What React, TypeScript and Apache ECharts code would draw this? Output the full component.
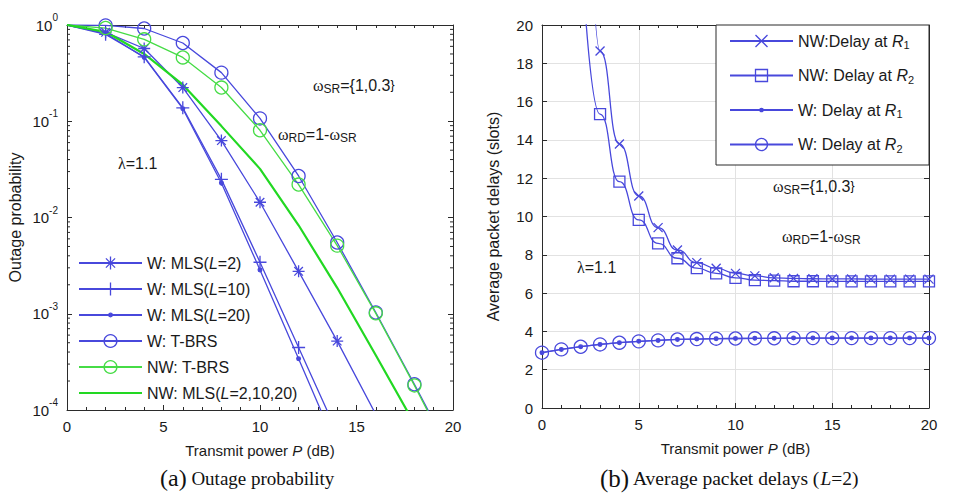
import React, { useEffect, useRef } from 'react';
import * as echarts from 'echarts';

// ---------- (a) outage probability, markers every 2 dB ----------
const powerOutage = [0, 2, 4, 6, 8, 10, 12, 14, 16, 18, 20];
const wMlsL2 = [1, 0.84, 0.57, 0.224, 0.063, 0.0144, 0.00276, 0.00052, 0.00009];
const wMlsL10 = [1, 0.8, 0.467, 0.138, 0.0249, 0.00343, 0.000446, 0.000058];
const wMlsL20 = [1, 0.82, 0.46, 0.135, 0.0228, 0.00285, 0.00034, 0.00004];
const wTbrs = [1, 0.99, 0.92, 0.65, 0.32, 0.107, 0.027, 0.0055, 0.00103, 0.000185, 0.000032];
const nwTbrs = [1, 0.93, 0.71, 0.46, 0.224, 0.0806, 0.022, 0.0051, 0.00101, 0.00018, 0.00003];
const nwMls = [1, 0.85, 0.5, 0.24, 0.089, 0.032, 0.0083, 0.00186, 0.00037, 0.000072];

// ---------- (b) average packet delays, markers every 1 dB ----------
const powerDelay = [0, 1, 2, 3, 4, 5, 6, 7, 8, 9, 10, 11, 12, 13, 14, 15, 16, 17, 18, 19, 20];
const nwDelayR1 = [null, null, 45, 18.64, 13.79, 11.07, 9.42, 8.25, 7.59, 7.3, 7.03, 6.9, 6.8, 6.77, 6.75, 6.74, 6.74, 6.73, 6.73, 6.73, 6.73];
const nwDelayR2 = [null, null, 24.5, 15.35, 11.82, 9.82, 8.6, 7.82, 7.3, 7.03, 6.8, 6.68, 6.65, 6.62, 6.62, 6.61, 6.61, 6.61, 6.61, 6.61, 6.61];
const wDelayR1 = [2.89, 3.06, 3.2, 3.32, 3.41, 3.48, 3.53, 3.58, 3.6, 3.62, 3.63, 3.64, 3.64, 3.65, 3.65, 3.65, 3.65, 3.65, 3.65, 3.65, 3.65];
const wDelayR2 = [2.89, 3.06, 3.2, 3.32, 3.41, 3.48, 3.53, 3.58, 3.6, 3.62, 3.63, 3.64, 3.64, 3.65, 3.65, 3.65, 3.65, 3.65, 3.65, 3.65, 3.65];

// tick labels
const outageDecades = [1e-4, 1e-3, 1e-2, 1e-1, 1];
const logMinorSteps = [2, 3, 4, 5, 6, 7, 8, 9];

const SANS = 'Liberation Sans, Arial, Helvetica, sans-serif';
const SERIF = 'Liberation Serif, Times New Roman, serif';
const TXT = '#1a1a1a';
const AXIS = '#2b2b2b';
const BLUE = '#4848dc';
const GREEN = '#46dc46';
const GREEN_THICK = '#22d822';

// marker shapes (stroke-drawn paths; the leading moves pad the box so the dot stays small)
const STAR = 'path://M0,-6L0,6M-6,0L6,0M-4.3,-4.3L4.3,4.3M-4.3,4.3L4.3,-4.3';
const PLUS = 'path://M0,-6L0,6M-6,0L6,0';
const DOT = 'path://M-6,-6M6,6M0,-1.7A1.7,1.7,0,1,1,0,1.7A1.7,1.7,0,1,1,0,-1.7Z';
const CROSS = 'path://M-5,-5L5,5M-5,5L5,-5';
const SQUARE = 'path://M-5,-5L5,-5L5,5L-5,5Z';

function pairs(xs: number[], ys: (number | null)[], hideFirst = false) {
  const out: any[] = [];
  ys.forEach((y, i) => {
    if (y == null) return;
    if (hideFirst && out.length === 0) out.push({ value: [xs[i], y], symbol: 'none' });
    else out.push([xs[i], y]);
  });
  return out;
}

function outageSeries(name: string, ys: number[], symbol: string, size: number, color: string, width: number, fill: string) {
  return {
    name,
    type: 'line',
    xAxisIndex: 0,
    yAxisIndex: 0,
    data: pairs(powerOutage, ys, true),
    symbol,
    symbolSize: size,
    clip: true,
    lineStyle: { color, width },
    itemStyle: { color: fill, borderColor: symbol === 'none' ? 'transparent' : color, borderWidth: 1.3 },
    emphasis: { disabled: true },
  };
}

function delaySeries(name: string, ys: (number | null)[], symbol: string, size: number, fill: string, smooth: number) {
  return {
    name,
    type: 'line',
    xAxisIndex: 2,
    yAxisIndex: 2,
    data: pairs(powerDelay, ys),
    symbol,
    symbolSize: size,
    smooth,
    smoothMonotone: 'x',
    clip: true,
    lineStyle: { color: BLUE, width: 1.3 },
    itemStyle: { color: fill, borderColor: BLUE, borderWidth: 1.3 },
    emphasis: { disabled: true },
  };
}

const axisLine = { show: true, onZero: false, lineStyle: { color: AXIS, width: 1 } };
const axisTick = { show: true, inside: true, length: 5, lineStyle: { color: AXIS } };
const minorTick = { show: true, splitNumber: 5, length: 3, lineStyle: { color: AXIS } };
const gridLine = { show: true, lineStyle: { color: '#e2e2e2', width: 1 } };

const xName = '{t|Transmit power }{i|P}{t| (dB)}';
const xNameStyle = {
  color: TXT,
  rich: {
    t: { fontSize: 15, fontFamily: SANS, color: TXT },
    i: { fontSize: 15, fontFamily: SANS, fontStyle: 'italic', color: TXT },
  },
};

const leftNames = ['W: MLS(L=2)', 'W: MLS(L=10)', 'W: MLS(L=20)', 'W: T-BRS', 'NW: T-BRS', 'NW: MLS(L=2,10,20)'];
const rightNames = ['NW:Delay at R1', 'NW: Delay at R2', 'W: Delay at R1', 'W: Delay at R2'];

// subscript tokens carry top padding (no fixed lineHeight) so they sit below the baseline
const annRich = {
  t: { fontSize: 16, lineHeight: 16, fontFamily: SANS, fill: TXT, verticalAlign: 'middle' },
  w: { fontSize: 16, lineHeight: 16, fontFamily: SERIF, fill: TXT, verticalAlign: 'middle' },
  s: { fontSize: 12, padding: [8, 0, 0, 0], fontFamily: SANS, fill: TXT, verticalAlign: 'bottom' },
};

function annotation(text: string, x: number, y: number) {
  return { type: 'text', x, y, z: 6, style: { text, rich: annRich, verticalAlign: 'middle', align: 'left' } };
}

export default function App() {
  const ref = useRef<HTMLDivElement>(null);

  useEffect(() => {
    if (!ref.current) return;
    const chart = echarts.init(ref.current, undefined, { renderer: 'svg' });

    const minorLogTicks: number[][] = [];
    outageDecades.slice(0, -1).forEach((d) => logMinorSteps.forEach((m) => minorLogTicks.push([0, d * m])));

    const option: any = {
      animation: false,
      backgroundColor: '#ffffff',
      textStyle: { fontFamily: SANS },
      grid: [
        { left: 67, top: 25, width: 386, height: 385 },
        { left: 542, top: 25, width: 387, height: 383 },
      ],
      xAxis: [
        {
          gridIndex: 0, type: 'value', min: 0, max: 20, interval: 5, position: 'bottom',
          axisLine, axisTick, minorTick, splitLine: { show: false },
          axisLabel: { fontSize: 15, color: TXT, margin: 9 },
          name: xName, nameLocation: 'middle', nameGap: 33, nameTextStyle: xNameStyle,
        },
        {
          gridIndex: 0, type: 'value', min: 0, max: 20, interval: 5, position: 'top',
          axisLine, axisTick, minorTick, splitLine: { show: false }, axisLabel: { show: false },
        },
        {
          gridIndex: 1, type: 'value', min: 0, max: 20, interval: 5, position: 'bottom',
          axisLine, axisTick, minorTick, splitLine: gridLine,
          axisLabel: { fontSize: 15, color: TXT, margin: 9 },
          name: xName, nameLocation: 'middle', nameGap: 33, nameTextStyle: xNameStyle,
        },
        {
          gridIndex: 1, type: 'value', min: 0, max: 20, interval: 5, position: 'top',
          axisLine, axisTick, minorTick, splitLine: { show: false }, axisLabel: { show: false },
        },
      ],
      yAxis: [
        {
          gridIndex: 0, type: 'log', logBase: 10, min: 1e-4, max: 1, splitNumber: 4, position: 'left',
          axisLine, axisTick, splitLine: { show: false },
          axisLabel: {
            margin: 9,
            formatter: (v: number) => `{b|10}{p|${Math.round(Math.log10(v))}}`,
            rich: {
              b: { fontSize: 15, lineHeight: 16, color: TXT, fontFamily: SANS, verticalAlign: 'middle' },
              p: { fontSize: 10, padding: [0, 0, 15, 0], verticalAlign: 'top', color: TXT, fontFamily: SANS },
            },
          },
          name: 'Outage probability', nameLocation: 'middle', nameGap: 44,
          nameTextStyle: { fontSize: 16, color: TXT, fontFamily: SANS },
        },
        {
          gridIndex: 0, type: 'log', logBase: 10, min: 1e-4, max: 1, splitNumber: 4, position: 'right',
          axisLine, axisTick, splitLine: { show: false }, axisLabel: { show: false },
        },
        {
          gridIndex: 1, type: 'value', min: 0, max: 20, interval: 2, position: 'left',
          axisLine, axisTick, splitLine: gridLine,
          axisLabel: { fontSize: 15, color: TXT, margin: 9 },
          name: 'Average packet delays (slots)', nameLocation: 'middle', nameGap: 41,
          nameTextStyle: { fontSize: 16, color: TXT, fontFamily: SANS },
        },
        {
          gridIndex: 1, type: 'value', min: 0, max: 20, interval: 2, position: 'right',
          axisLine, axisTick, splitLine: { show: false }, axisLabel: { show: false },
        },
      ],
      legend: [
        {
          orient: 'vertical', left: 78, top: 255, padding: 0,
          itemWidth: 63, itemHeight: 16, itemGap: 10, selectedMode: false,
          data: leftNames,
          itemStyle: { borderWidth: 1.3 },
          formatter: (name: string) => {
            const m = name.match(/^(.*\()L(=.*)$/);
            return m ? `{t|${m[1]}}{i|L}{t|${m[2]}}` : `{t|${name}}`;
          },
          textStyle: {
            color: TXT, fontSize: 16,
            rich: {
              t: { fontSize: 16, lineHeight: 16, fontFamily: SANS, color: TXT },
              i: { fontSize: 16, lineHeight: 16, fontFamily: SANS, fontStyle: 'italic', color: TXT },
            },
          },
        },
        {
          orient: 'vertical', left: 729, top: 33, padding: 0, z: 5,
          itemWidth: 63, itemHeight: 15, itemGap: 17, selectedMode: false,
          data: rightNames,
          itemStyle: { borderWidth: 1.3 },
          formatter: (name: string) => {
            const head = name.slice(0, -2);
            const idx = name.slice(-1);
            return `{t|${head}}{i|R}{s|${idx}}`;
          },
          textStyle: {
            color: TXT, fontSize: 16,
            rich: {
              t: { fontSize: 16, lineHeight: 16, fontFamily: SANS, color: TXT, verticalAlign: 'middle' },
              i: { fontSize: 16, lineHeight: 16, fontFamily: SANS, fontStyle: 'italic', color: TXT, verticalAlign: 'middle' },
              s: { fontSize: 11, padding: [8, 0, 0, 0], fontFamily: SANS, color: TXT, verticalAlign: 'bottom' },
            },
          },
        },
      ],
      graphic: [
        { type: 'rect', z: 3, shape: { x: 716, y: 25, width: 213, height: 140 }, style: { fill: '#ffffff', stroke: AXIS, lineWidth: 1 } },
        annotation('{w|λ}{t|=1.1}', 118, 163),
        annotation('{w|ω}{s|SR}{t|={1,0.3}}', 313, 85),
        annotation('{w|ω}{s|RD}{t|=1-}{w|ω}{s|SR}', 278, 134),
        annotation('{w|λ}{t|=1.1}', 577, 267),
        annotation('{w|ω}{s|SR}{t|={1,0.3}}', 773, 186),
        annotation('{w|ω}{s|RD}{t|=1-}{w|ω}{s|SR}', 782, 236),
        {
          type: 'text', x: 160, y: 478, z: 6,
          style: {
            text: '{a|(a)}{c| Outage probability}', verticalAlign: 'middle',
            rich: {
              a: { fontSize: 24, lineHeight: 26, fontFamily: SERIF, fill: '#111' },
              c: { fontSize: 19, lineHeight: 26, fontFamily: SERIF, fill: '#111' },
            },
          },
        },
        {
          type: 'text', x: 600, y: 478, z: 6,
          style: {
            text: '{a|(b)}{c| Average packet delays (}{i|L}{c|=2)}', verticalAlign: 'middle',
            rich: {
              a: { fontSize: 25, lineHeight: 26, fontFamily: SERIF, fill: '#111' },
              c: { fontSize: 19.5, lineHeight: 26, fontFamily: SERIF, fill: '#111' },
              i: { fontSize: 19.5, lineHeight: 26, fontFamily: SERIF, fontStyle: 'italic', fill: '#111' },
            },
          },
        },
      ],
      series: [
        outageSeries('W: MLS(L=2)', wMlsL2, STAR, 12, BLUE, 1.3, BLUE),
        outageSeries('W: MLS(L=10)', wMlsL10, PLUS, 13, BLUE, 1.3, BLUE),
        outageSeries('W: MLS(L=20)', wMlsL20, DOT, 13, BLUE, 1.3, BLUE),
        outageSeries('W: T-BRS', wTbrs, 'circle', 13, BLUE, 1.3, 'transparent'),
        outageSeries('NW: T-BRS', nwTbrs, 'circle', 13, GREEN, 1.3, 'transparent'),
        outageSeries('NW: MLS(L=2,10,20)', nwMls, 'none', 12, GREEN_THICK, 2.2, 'transparent'),
        {
          type: 'custom', xAxisIndex: 0, yAxisIndex: 0, silent: true, z: 1,
          data: minorLogTicks,
          encode: { x: 0, y: 1 },
          renderItem: (_params: any, api: any) => {
            const v = api.value(1);
            const a = api.coord([0, v]);
            const b = api.coord([20, v]);
            return {
              type: 'group',
              children: [
                { type: 'line', shape: { x1: a[0], y1: a[1], x2: a[0] + 3, y2: a[1] }, style: { stroke: AXIS, lineWidth: 1 } },
                { type: 'line', shape: { x1: b[0] - 3, y1: b[1], x2: b[0], y2: b[1] }, style: { stroke: AXIS, lineWidth: 1 } },
              ],
            };
          },
        },
        delaySeries('NW:Delay at R1', nwDelayR1, CROSS, 9, BLUE, 0.55),
        delaySeries('NW: Delay at R2', nwDelayR2, SQUARE, 11, 'transparent', 0.55),
        delaySeries('W: Delay at R1', wDelayR1, DOT, 13, BLUE, 0),
        delaySeries('W: Delay at R2', wDelayR2, 'circle', 13, 'transparent', 0),
      ],
    };

    chart.setOption(option);
    return () => chart.dispose();
  }, []);

  return (
    <div
      ref={ref}
      style={{ position: 'fixed', left: 0, top: 0, width: 953, height: 496, background: '#fff' }}
    />
  );
}
